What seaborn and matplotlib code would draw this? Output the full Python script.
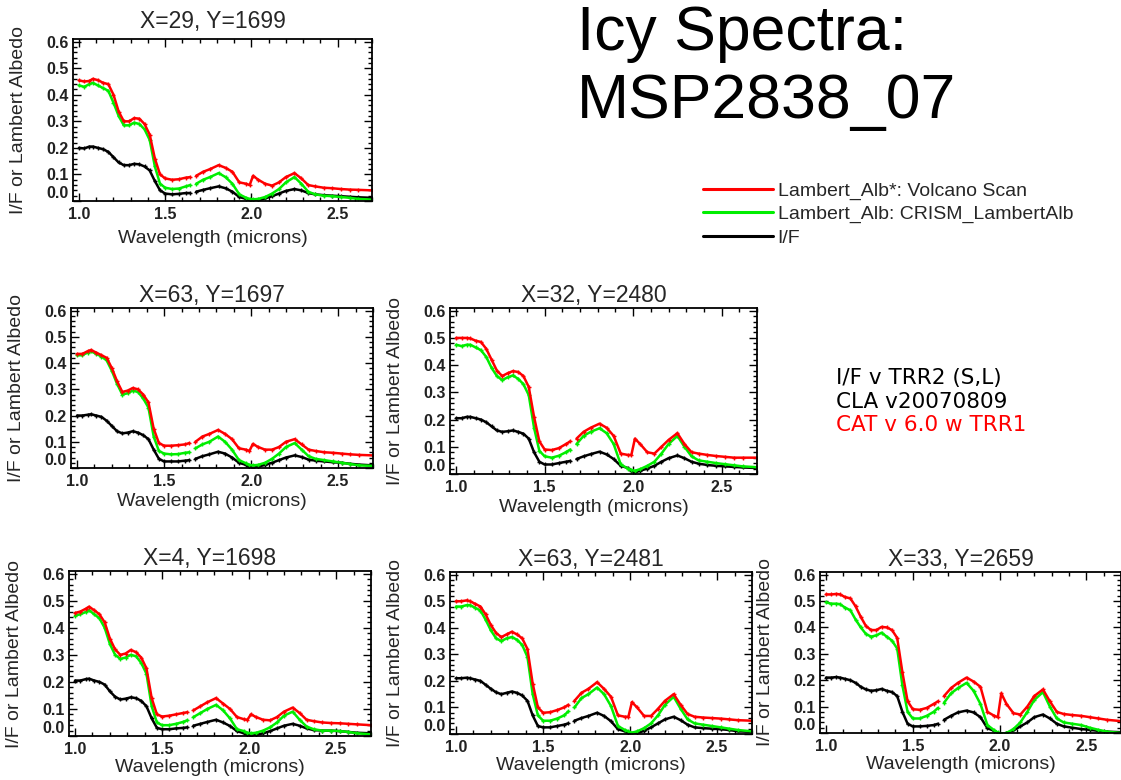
import numpy as np
import pandas as pd
import matplotlib
matplotlib.use("Agg")
import matplotlib.pyplot as plt
from matplotlib.lines import Line2D
from matplotlib.ticker import MultipleLocator
import seaborn as sns

# wavelength grid (microns); the detector gap sits between 1.645 and 1.68
WAVE = [1.00, 1.03, 1.06, 1.08, 1.11, 1.14, 1.17, 1.20, 1.23, 1.26, 1.29,
        1.32, 1.35, 1.38, 1.41, 1.44, 1.47, 1.50, 1.54, 1.58, 1.62, 1.645,
        1.68, 1.72, 1.76, 1.81, 1.85, 1.89, 1.93, 1.97, 1.99, 2.01, 2.04,
        2.08, 2.12, 2.16, 2.20, 2.25, 2.29, 2.33, 2.37, 2.42, 2.47, 2.52,
        2.57, 2.62, 2.70]
GAP_AT = 1.66

SERIES = ["Lambert_Alb*: Volcano Scan", "Lambert_Alb: CRISM_LambertAlb", "I/F"]
COLORS = ["#ff0000", "#00ee00", "#000000"]

TITLES = ["X=29, Y=1699", "X=63, Y=1697", "X=32, Y=2480",
          "X=4, Y=1698", "X=63, Y=2481", "X=33, Y=2659"]

# X=29, Y=1699
RED_1 = [0.454, 0.45, 0.452, 0.46, 0.455, 0.445, 0.44, 0.40, 0.337, 0.30, 0.30,
         0.312, 0.31, 0.29, 0.25, 0.16, 0.10, 0.085, 0.08, 0.082, 0.088, 0.09,
         0.095, 0.11, 0.12, 0.135, 0.125, 0.11, 0.07, 0.065, 0.06, 0.095, 0.08,
         0.065, 0.058, 0.07, 0.09, 0.105, 0.085, 0.06, 0.055, 0.05, 0.048, 0.045,
         0.043, 0.042, 0.04]
GREEN_1 = [0.435, 0.43, 0.44, 0.445, 0.435, 0.425, 0.415, 0.37, 0.32, 0.285, 0.285,
           0.295, 0.29, 0.27, 0.23, 0.13, 0.065, 0.05, 0.045, 0.047, 0.055, 0.06,
           0.065, 0.08, 0.09, 0.105, 0.09, 0.065, 0.025, 0.012, 0.008, 0.006, 0.008,
           0.015, 0.028, 0.045, 0.07, 0.09, 0.065, 0.035, 0.025, 0.02, 0.018, 0.015,
           0.012, 0.008, 0.005]
BLACK_1 = [0.20, 0.198, 0.205, 0.205, 0.20, 0.195, 0.185, 0.165, 0.145, 0.135, 0.135,
           0.14, 0.138, 0.13, 0.115, 0.075, 0.04, 0.028, 0.025, 0.027, 0.03, 0.03,
           0.035, 0.042, 0.048, 0.055, 0.048, 0.035, 0.015, 0.008, 0.002, -0.003, 0.002,
           0.01, 0.018, 0.028, 0.038, 0.045, 0.04, 0.03, 0.025, 0.022, 0.02, 0.018,
           0.016, 0.014, 0.012]

# X=63, Y=1697
RED_2 = [0.435, 0.435, 0.445, 0.45, 0.44, 0.43, 0.42, 0.38, 0.33, 0.29, 0.295,
         0.305, 0.30, 0.28, 0.25, 0.15, 0.095, 0.085, 0.085, 0.087, 0.09, 0.095,
         0.10, 0.12, 0.13, 0.145, 0.13, 0.11, 0.075, 0.07, 0.065, 0.092, 0.08,
         0.07, 0.07, 0.08, 0.10, 0.11, 0.09, 0.07, 0.065, 0.06, 0.058, 0.055,
         0.052, 0.05, 0.048]
GREEN_2 = [0.43, 0.43, 0.44, 0.445, 0.435, 0.425, 0.41, 0.37, 0.32, 0.28, 0.285,
           0.295, 0.29, 0.265, 0.23, 0.12, 0.065, 0.055, 0.052, 0.053, 0.058, 0.06,
           0.075, 0.09, 0.10, 0.12, 0.10, 0.07, 0.03, 0.018, 0.012, 0.01, 0.012,
           0.02, 0.035, 0.055, 0.08, 0.095, 0.07, 0.045, 0.035, 0.03, 0.025, 0.02,
           0.015, 0.01, 0.008]
BLACK_2 = [0.20, 0.20, 0.203, 0.205, 0.20, 0.195, 0.18, 0.16, 0.14, 0.132, 0.135,
           0.14, 0.135, 0.125, 0.11, 0.07, 0.035, 0.025, 0.025, 0.025, 0.028, 0.03,
           0.035, 0.045, 0.052, 0.062, 0.055, 0.04, 0.02, 0.012, 0.005, 0.0, 0.005,
           0.012, 0.02, 0.03, 0.04, 0.048, 0.042, 0.032, 0.028, 0.025, 0.022, 0.02,
           0.016, 0.013, 0.01]

# X=32, Y=2480
RED_3 = [0.50, 0.50, 0.50, 0.498, 0.49, 0.485, 0.46, 0.42, 0.38, 0.36, 0.37,
         0.378, 0.375, 0.36, 0.32, 0.21, 0.12, 0.09, 0.088, 0.095, 0.11, 0.12,
         0.13, 0.155, 0.17, 0.185, 0.17, 0.14, 0.075, 0.07, 0.07, 0.13, 0.11,
         0.08, 0.075, 0.10, 0.125, 0.15, 0.11, 0.08, 0.075, 0.07, 0.066, 0.063,
         0.06, 0.06, 0.06]
GREEN_3 = [0.475, 0.47, 0.475, 0.475, 0.465, 0.455, 0.43, 0.39, 0.36, 0.345, 0.355,
           0.362, 0.35, 0.33, 0.29, 0.17, 0.085, 0.065, 0.06, 0.067, 0.08, 0.09,
           0.11, 0.14, 0.155, 0.168, 0.15, 0.11, 0.035, 0.02, 0.015, 0.012, 0.018,
           0.03, 0.045, 0.075, 0.11, 0.14, 0.10, 0.065, 0.05, 0.045, 0.04, 0.036,
           0.032, 0.028, 0.025]
BLACK_3 = [0.205, 0.205, 0.21, 0.21, 0.205, 0.20, 0.19, 0.175, 0.16, 0.155, 0.157,
           0.16, 0.155, 0.148, 0.13, 0.08, 0.045, 0.035, 0.035, 0.04, 0.045, 0.048,
           0.055, 0.065, 0.073, 0.082, 0.072, 0.055, 0.03, 0.022, 0.012, 0.006, 0.012,
           0.02, 0.03, 0.045, 0.058, 0.068, 0.058, 0.045, 0.038, 0.033, 0.03, 0.028,
           0.026, 0.024, 0.022]

# X=4, Y=1698
RED_4 = [0.455, 0.46, 0.47, 0.478, 0.465, 0.45, 0.42, 0.36, 0.32, 0.30, 0.305,
         0.318, 0.31, 0.29, 0.25, 0.14, 0.08, 0.072, 0.075, 0.08, 0.085, 0.088,
         0.095, 0.11, 0.125, 0.14, 0.12, 0.10, 0.07, 0.062, 0.06, 0.08, 0.07,
         0.06, 0.058, 0.07, 0.09, 0.105, 0.085, 0.06, 0.055, 0.05, 0.048, 0.047,
         0.045, 0.043, 0.04]
GREEN_4 = [0.445, 0.45, 0.458, 0.465, 0.45, 0.435, 0.40, 0.34, 0.30, 0.285, 0.29,
           0.30, 0.295, 0.27, 0.23, 0.11, 0.05, 0.04, 0.04, 0.045, 0.052, 0.058,
           0.07, 0.085, 0.10, 0.115, 0.095, 0.065, 0.025, 0.018, 0.012, 0.01, 0.012,
           0.02, 0.032, 0.05, 0.075, 0.09, 0.06, 0.035, 0.025, 0.02, 0.02, 0.018,
           0.015, 0.01, 0.006]
BLACK_4 = [0.205, 0.205, 0.21, 0.212, 0.205, 0.20, 0.19, 0.165, 0.145, 0.135, 0.138,
           0.143, 0.14, 0.13, 0.11, 0.065, 0.03, 0.025, 0.025, 0.028, 0.03, 0.032,
           0.038, 0.045, 0.052, 0.06, 0.05, 0.037, 0.018, 0.01, 0.005, 0.0, 0.004,
           0.01, 0.018, 0.028, 0.038, 0.045, 0.038, 0.028, 0.022, 0.02, 0.02, 0.018,
           0.015, 0.012, 0.01]

# X=63, Y=2481
RED_5 = [0.50, 0.50, 0.503, 0.50, 0.49, 0.48, 0.45, 0.41, 0.38, 0.365, 0.375,
         0.385, 0.375, 0.36, 0.32, 0.19, 0.10, 0.08, 0.082, 0.09, 0.10, 0.11,
         0.125, 0.155, 0.17, 0.195, 0.17, 0.14, 0.07, 0.065, 0.065, 0.12, 0.10,
         0.068, 0.068, 0.095, 0.125, 0.15, 0.11, 0.075, 0.065, 0.062, 0.06, 0.058,
         0.055, 0.052, 0.05]
GREEN_5 = [0.48, 0.48, 0.485, 0.485, 0.475, 0.465, 0.43, 0.39, 0.36, 0.35, 0.36,
           0.365, 0.355, 0.335, 0.29, 0.15, 0.07, 0.05, 0.05, 0.058, 0.07, 0.085,
           0.10, 0.135, 0.15, 0.175, 0.15, 0.105, 0.03, 0.015, 0.01, 0.005, 0.01,
           0.022, 0.04, 0.07, 0.11, 0.14, 0.095, 0.055, 0.04, 0.035, 0.03, 0.025,
           0.02, 0.015, 0.01]
BLACK_5 = [0.21, 0.21, 0.212, 0.21, 0.205, 0.20, 0.185, 0.17, 0.157, 0.15, 0.155,
           0.16, 0.155, 0.145, 0.125, 0.07, 0.03, 0.025, 0.025, 0.03, 0.035, 0.04,
           0.05, 0.06, 0.068, 0.08, 0.068, 0.048, 0.018, 0.01, 0.005, -0.003, 0.003,
           0.012, 0.025, 0.04, 0.055, 0.065, 0.052, 0.035, 0.025, 0.022, 0.02, 0.018,
           0.015, 0.01, 0.008]

# X=33, Y=2659
RED_6 = [0.525, 0.525, 0.527, 0.525, 0.515, 0.51, 0.48, 0.44, 0.405, 0.39, 0.39,
         0.402, 0.40, 0.39, 0.36, 0.23, 0.12, 0.09, 0.088, 0.095, 0.11, 0.12,
         0.14, 0.17, 0.19, 0.21, 0.195, 0.175, 0.08, 0.065, 0.06, 0.15, 0.11,
         0.075, 0.07, 0.10, 0.14, 0.165, 0.12, 0.08, 0.072, 0.068, 0.065, 0.06,
         0.055, 0.05, 0.045]
GREEN_6 = [0.495, 0.49, 0.49, 0.488, 0.475, 0.465, 0.43, 0.40, 0.375, 0.365, 0.37,
           0.38, 0.365, 0.35, 0.32, 0.18, 0.08, 0.055, 0.055, 0.065, 0.08, 0.095,
           0.115, 0.15, 0.17, 0.19, 0.16, 0.11, 0.03, 0.01, 0.002, -0.003, 0.0,
           0.015, 0.04, 0.08, 0.125, 0.155, 0.10, 0.055, 0.04, 0.035, 0.03, 0.02,
           0.012, 0.005, 0.0]
BLACK_6 = [0.21, 0.21, 0.212, 0.21, 0.205, 0.20, 0.19, 0.175, 0.165, 0.16, 0.162,
           0.167, 0.16, 0.155, 0.14, 0.08, 0.035, 0.025, 0.025, 0.027, 0.03, 0.035,
           0.05, 0.065, 0.078, 0.085, 0.078, 0.06, 0.018, 0.008, 0.0, -0.003, 0.0,
           0.01, 0.025, 0.04, 0.06, 0.07, 0.055, 0.035, 0.025, 0.02, 0.015, 0.012,
           0.008, 0.005, 0.003]

PANEL_DATA = [
    (RED_1, GREEN_1, BLACK_1),
    (RED_2, GREEN_2, BLACK_2),
    (RED_3, GREEN_3, BLACK_3),
    (RED_4, GREEN_4, BLACK_4),
    (RED_5, GREEN_5, BLACK_5),
    (RED_6, GREEN_6, BLACK_6),
]

# axes frames in pixels: left, right, top, bottom
FRAMES = [(73, 372, 39, 201), (71, 373, 308, 468), (450, 757, 308, 474),
          (69, 371, 571, 736), (450, 752, 572, 734), (820, 1121, 572, 733)]
TITLE_PADS = [8, 4, 4, 4, 4, 4]
XLABEL_PADS = [6, 3, 3, 2, 2, 2]

W, H = 1121, 780

sns.set_theme(style="white")
plt.rcParams["font.family"] = ["Liberation Sans", "DejaVu Sans"]

fig = plt.figure(figsize=(W / 100, H / 100), dpi=100)
fig.patch.set_facecolor("white")


def make_frame(vals):
    df = pd.DataFrame({"wave": WAVE, "value": vals})
    df["seg"] = (df["wave"] > GAP_AT).astype(int)
    return df


for (l, r, t, b), title, panel, tpad, xpad in zip(FRAMES, TITLES, PANEL_DATA,
                                                  TITLE_PADS, XLABEL_PADS):
    ax = fig.add_axes([l / W, 1 - b / H, (r - l) / W, (b - t) / H])
    # black first, red on top
    for vals, col in list(zip(panel, COLORS))[::-1]:
        sns.lineplot(data=make_frame(vals), x="wave", y="value", units="seg",
                     estimator=None, color=col, marker="+", markersize=3.5,
                     markeredgecolor=col, markeredgewidth=1, linewidth=1.8,
                     legend=False, ax=ax)
    ax.set_xlim(0.965, 2.70)
    ax.set_ylim(0.0, 0.61)
    ax.xaxis.set_minor_locator(MultipleLocator(0.1))
    ax.yaxis.set_minor_locator(MultipleLocator(0.02))
    ax.set_xticks([1.0, 1.5, 2.0, 2.5])
    ax.set_yticks([0.0, 0.1, 0.2, 0.3, 0.4, 0.5, 0.6])
    ax.set_yticklabels(["0.0", "0.1", "0.2", "0.3", "0.4", "0.5", "0.6"])
    ax.set_xticklabels(["1.0", "1.5", "2.0", "2.5"])
    ax.tick_params(which="both", direction="in", top=True, right=True,
                   bottom=True, left=True, color="black")
    ax.tick_params(which="major", length=6, width=1)
    ax.tick_params(which="minor", length=3, width=1)
    ax.tick_params(axis="y", pad=3)
    ax.tick_params(axis="x", pad=4)
    for lab in ax.get_xticklabels() + ax.get_yticklabels():
        lab.set_fontsize(11.5)
        lab.set_fontweight("bold")
        lab.set_color("#222222")
    ax.get_yticklabels()[0].set_va("bottom")
    for sp in ax.spines.values():
        sp.set_color("black")
        sp.set_linewidth(1.3)
    shift = 0.5 - 10 / (r - l)
    ax.set_title(title, fontsize=16.5, pad=tpad, x=shift)
    ax.set_xlabel("Wavelength (microns)", fontsize=14, labelpad=xpad)
    ax.xaxis.label.set_x(shift)
    ax.set_ylabel("I/F or Lambert Albedo", fontsize=14, labelpad=14)
    ax.grid(False)

# big title
fig.text(577 / W, 1 - 50 / H, "Icy Spectra:", fontsize=45, va="baseline",
         ha="left", color="black")
fig.text(577 / W, 1 - 118 / H, "MSP2838_07", fontsize=45, va="baseline",
         ha="left", color="black")

# legend
handles = [Line2D([0], [0], color=c, lw=2.2) for c in COLORS]
fig.legend(handles, SERIES, loc="upper left",
           bbox_to_anchor=(693 / W, 1 - 172 / H), frameon=False, borderpad=0,
           handlelength=3.6, handletextpad=0.25, labelspacing=0.3,
           fontsize=14)

# processing notes
notes = [("I/F v TRR2 (S,L)", "black", 378),
         ("CLA v20070809", "black", 402),
         ("CAT v 6.0 w TRR1", "red", 425)]
for txt, col, y in notes:
    fig.text(836 / W, 1 - y / H, txt, fontsize=15.5, color=col, va="center",
             ha="left", family="DejaVu Sans")

plt.savefig("out.png", dpi=100)
plt.close()
